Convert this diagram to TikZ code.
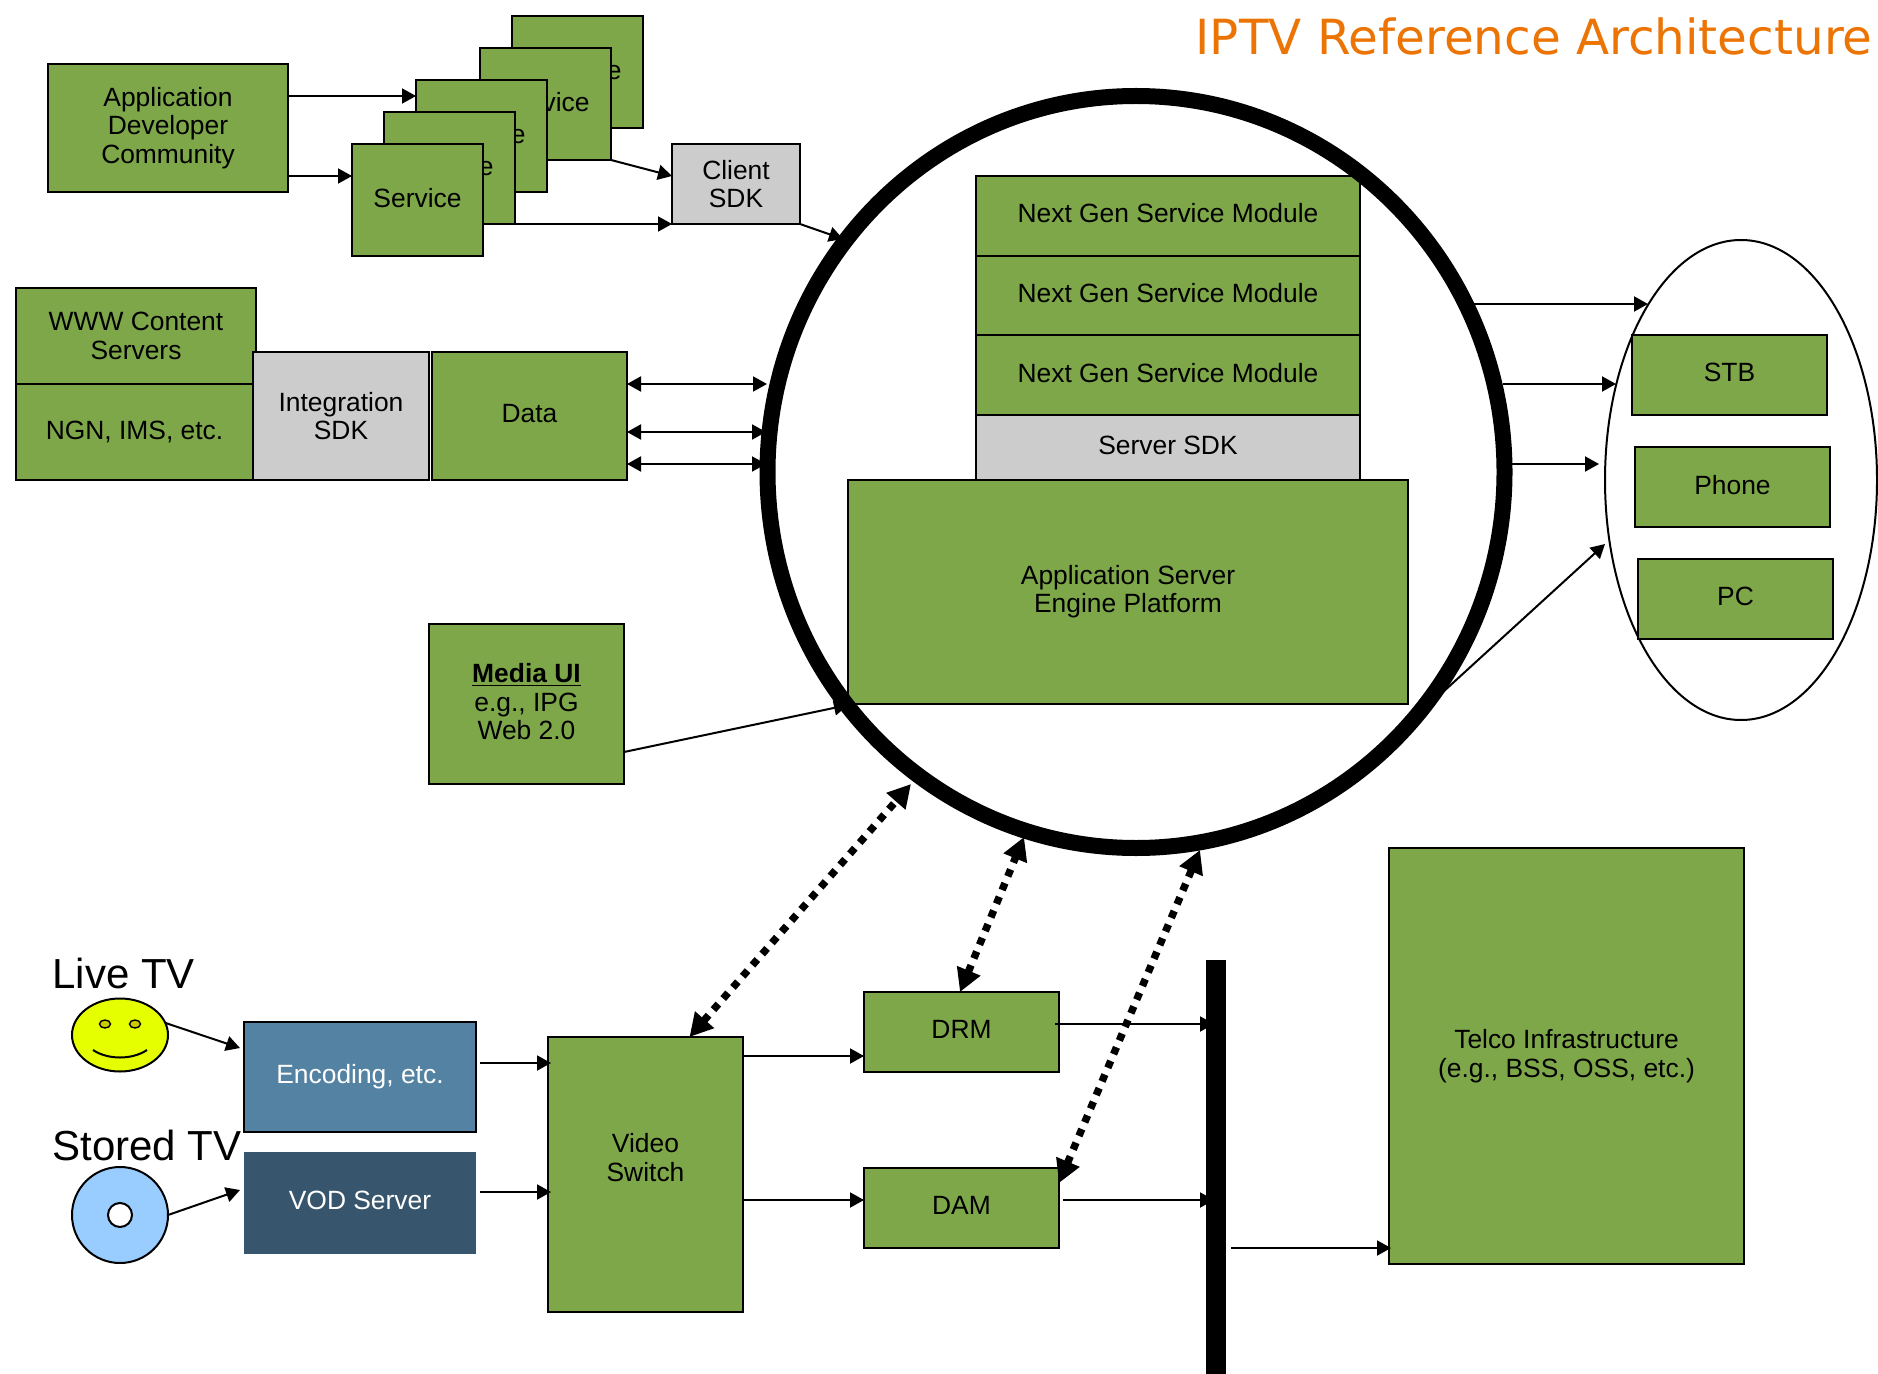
\documentclass[tikz,border=0pt]{standalone}
\usepackage{fontspec}
\setmainfont{Liberation Sans}
\newfontfamily\titlefont{DejaVu Sans}
\usetikzlibrary{shapes.geometric, arrows.meta, positioning, calc}
\definecolor{boxgreen}{HTML}{7EA74A}
\definecolor{sdkgray}{HTML}{CCCCCC}
\definecolor{encblue}{HTML}{5482A2}
\definecolor{vodblue}{HTML}{37566D}
\definecolor{titleorange}{HTML}{EC7405}
\definecolor{smileyyellow}{HTML}{E6FF00}
\definecolor{eyeyellow}{HTML}{CCCC00}
\definecolor{discblue}{HTML}{99CCFF}
\tikzstyle{module} = [rectangle, anchor=north west, draw=black, line width=1pt, fill=boxgreen, inner sep=0pt, outer sep=0pt, align=center, font=\fontsize{13.2}{14.2}\selectfont]
\tikzstyle{sdk} = [module, fill=sdkgray]
\tikzstyle{source} = [module, text=white]
\tikzstyle{lift} = [text depth=2.4pt]
\tikzstyle{caption} = [anchor=base west, inner sep=0pt, font=\fontsize{21}{24}\selectfont]
\tikzstyle{eye} = [ellipse, draw=black, line width=0.7pt, fill=eyeyellow, inner sep=0pt, minimum width=5.5pt, minimum height=4pt]
\tikzstyle{arrow} = [line width=1pt,->,>={Triangle[length=7pt,width=7.5pt]}]
\tikzstyle{biarrow} = [arrow,<->]
\tikzstyle{sigarrow} = [line width=3.7pt,dash pattern=on 3.7pt off 3.7pt,<->,>={Triangle[length=11.5pt,width=12pt]}]

\begin{document}
\begin{tikzpicture}[x=0.5pt,y=-0.5pt]
    \useasboundingbox (0,0) rectangle (1878,1374);
    \node[anchor=base east,inner sep=0pt,text=titleorange,font=\titlefont\fontsize{24.2}{28}\selectfont] (title) at (1873,55) {IPTV Reference Architecture};

    % developers and services
    \node[module,minimum width=120pt,minimum height=64pt] (appdev) at (48,64) {Application\\Developer\\Community};
    \node[module,lift,minimum width=65.5pt,minimum height=56pt] (svce) at (512,16) {Service};
    \node[module,lift,minimum width=65.5pt,minimum height=56pt] (svcd) at (480,48) {Service};
    \node[module,lift,minimum width=65.5pt,minimum height=56pt] (svcc) at (416,80) {Service};
    \node[module,lift,minimum width=65.5pt,minimum height=56pt] (svcb) at (384,112) {Service};
    \node[module,lift,minimum width=65.5pt,minimum height=56pt] (svca) at (352,144) {Service};
    \node[sdk,minimum width=64pt,minimum height=40pt] (clientsdk) at (672,144) {Client\\SDK};

    % content
    \node[module,minimum width=120pt,minimum height=48pt] (www) at (16,288) {WWW Content\\Servers};
    \node[module,minimum width=118.5pt,minimum height=48pt] (ngn) at (16,384) {NGN, IMS, etc.};
    \node[sdk,minimum width=88pt,minimum height=64pt] (integration) at (253,352) {Integration\\SDK};
    \node[module,lift,minimum width=97.5pt,minimum height=64pt] (data) at (432,352) {Data};
    \node[module,lift,minimum width=97.5pt,minimum height=80pt] (mediaui) at (429,624) {\underline{\textbf{Media UI}}\\e.g., IPG\\Web 2.0};

    % application server stack
    \node[module,lift,minimum width=192pt,minimum height=39.8pt] (ngena) at (976,176) {Next Gen Service Module};
    \node[module,lift,minimum width=192pt,minimum height=39.8pt,below=0pt of ngena] (ngenb) {Next Gen Service Module};
    \node[module,lift,minimum width=192pt,minimum height=39.8pt,below=0pt of ngenb] (ngenc) {Next Gen Service Module};
    \node[sdk,lift,minimum width=192pt,minimum height=33pt,below=0pt of ngenc] (serversdk) {Server SDK};
    \node[module,minimum width=280pt,minimum height=112pt] (appserver) at (848,479.5) {Application Server\\Engine Platform};

    % devices
    \node[ellipse,draw=black,line width=1pt,inner sep=0pt,outer sep=0pt,minimum width=136pt,minimum height=240pt] (devices) at (1741,480) {};
    \node[module,lift,minimum width=97.5pt,minimum height=40pt] (stb) at (1632,335) {STB};
    \node[module,lift,minimum width=97.5pt,minimum height=40pt] (phone) at (1635,447) {Phone};
    \node[module,lift,minimum width=97.5pt,minimum height=40pt] (pc) at (1638,559) {PC};

    % video chain
    \node[caption] (livetv) at (52,988) {Live TV};
    \node[caption] (storedtv) at (52,1160) {Stored TV};
    \node[ellipse,draw=black,line width=1pt,fill=smileyyellow,inner sep=0pt,outer sep=0pt,minimum width=48pt,minimum height=36.5pt] (smiley) at (120,1035) {};
    \node[eye] (eyeleft) at (105,1024) {};
    \node[eye] (eyeright) at (135,1024) {};
    \draw[line width=1pt] (93,1050) .. controls (108,1060) and (132,1060) .. (147,1050);
    \node[ellipse,draw=black,line width=1pt,fill=discblue,inner sep=0pt,outer sep=0pt,minimum width=48pt,minimum height=48pt] (disc) at (120,1215) {};
    \node[ellipse,draw=black,line width=1pt,fill=white,inner sep=0pt,minimum width=12pt,minimum height=12pt] (dischole) at (120,1215) {};
    \node[source,fill=encblue,minimum width=116pt,minimum height=55pt] (encoding) at (244,1022) {Encoding, etc.};
    \node[source,lift,draw=none,fill=vodblue,minimum width=116pt,minimum height=51pt] (vod) at (244,1152) {VOD Server};
    \node[module,minimum width=97.5pt,minimum height=137.5pt,text depth=17pt] (switch) at (548,1037) {Video\\Switch};
    \node[module,lift,minimum width=97.5pt,minimum height=40pt] (drm) at (864,992) {DRM};
    \node[module,lift,minimum width=97.5pt,minimum height=40pt] (dam) at (864,1168) {DAM};
    \node[module,minimum width=177.5pt,minimum height=208pt] (telco) at (1389,848) {Telco Infrastructure\\(e.g., BSS, OSS, etc.)};

    % ring and bar
    \node[ellipse,draw=black,line width=8pt,inner sep=0pt,outer sep=0pt,minimum width=368.5pt,minimum height=376pt] (hub) at (1136,472) {};
    \node[rectangle,anchor=north west,fill=black,inner sep=0pt,outer sep=0pt,minimum width=10pt,minimum height=207pt] (bar) at (1206,960) {};

    \coordinate (hubclient) at (843,239);
    \coordinate (hubdataa) at (767,384);
    \coordinate (hubdatab) at (766,432);
    \coordinate (hubdatac) at (766,464);
    \coordinate (hubmedia) at (848,705);
    \coordinate (hubswitch) at (911,784);
    \coordinate (hubdrm) at (1024,837);
    \coordinate (hubdam) at (1200,850);
    \coordinate (hubouta) at (1473,304);
    \coordinate (huboutb) at (1503,384);
    \coordinate (huboutc) at (1512,464);
    \coordinate (huboutd) at (1443,692);
    \coordinate (devicesa) at (1648,304);
    \coordinate (devicesb) at (1616,384);
    \coordinate (devicesc) at (1599,464);
    \coordinate (devicesd) at (1605,544);
    \coordinate (encin) at (240,1048);
    \coordinate (vodin) at (240,1190);

    \draw[arrow] (appdev.east |- 0,96) -- (svcc.west |- 0,96);
    \draw[arrow] (appdev.east |- 0,176) -- (svca.west |- 0,176);
    \draw[arrow] (svcd.south east) -- (clientsdk.west |- 0,176);
    \draw[arrow] (svca.east |- 0,224) -- (clientsdk.south west);
    \draw[arrow] (clientsdk.south east) -- (hubclient);
    \draw[biarrow] (data.east |- hubdataa) -- (hubdataa);
    \draw[biarrow] (data.east |- hubdatab) -- (hubdatab);
    \draw[biarrow] (data.east |- hubdatac) -- (hubdatac);
    \draw[arrow] (mediaui.east |- 0,752) -- (hubmedia);
    \draw[arrow] (hubouta) -- (devicesa);
    \draw[arrow] (huboutb) -- (devicesb);
    \draw[arrow] (huboutc) -- (devicesc);
    \draw[arrow] (huboutd) -- (devicesd);

    \draw[arrow] (smiley.15) -- (encin);
    \draw[arrow] (disc.east) -- (vodin);
    \draw[arrow] ([xshift=2pt]encoding.east |- 0,1063) -- ([xshift=1.5pt]switch.west |- 0,1063);
    \draw[arrow] ([xshift=2pt]vod.east |- 0,1192) -- ([xshift=1.5pt]switch.west |- 0,1192);
    \draw[arrow] (switch.east |- 0,1056) -- (drm.west |- 0,1056);
    \draw[arrow] (switch.east |- 0,1200) -- (dam.west |- 0,1200);
    \draw[arrow] ([xshift=-2pt]drm.east |- 0,1024) -- ([xshift=4pt]bar.west |- 0,1024);
    \draw[arrow] ([xshift=2pt]dam.east |- 0,1200) -- ([xshift=4pt]bar.west |- 0,1200);
    \draw[arrow] ([xshift=2.5pt]bar.east |- 0,1248) -- ([xshift=1pt]telco.west |- 0,1248);

    % thick dotted links
    \draw[sigarrow] ([xshift=22pt]switch.north) -- (hubswitch);
    \draw[sigarrow] ([xshift=-0.75pt]drm.north) -- (hubdrm);
    \draw[sigarrow] ([yshift=-7.5pt]dam.north east) -- (hubdam);
\end{tikzpicture}
\end{document}
